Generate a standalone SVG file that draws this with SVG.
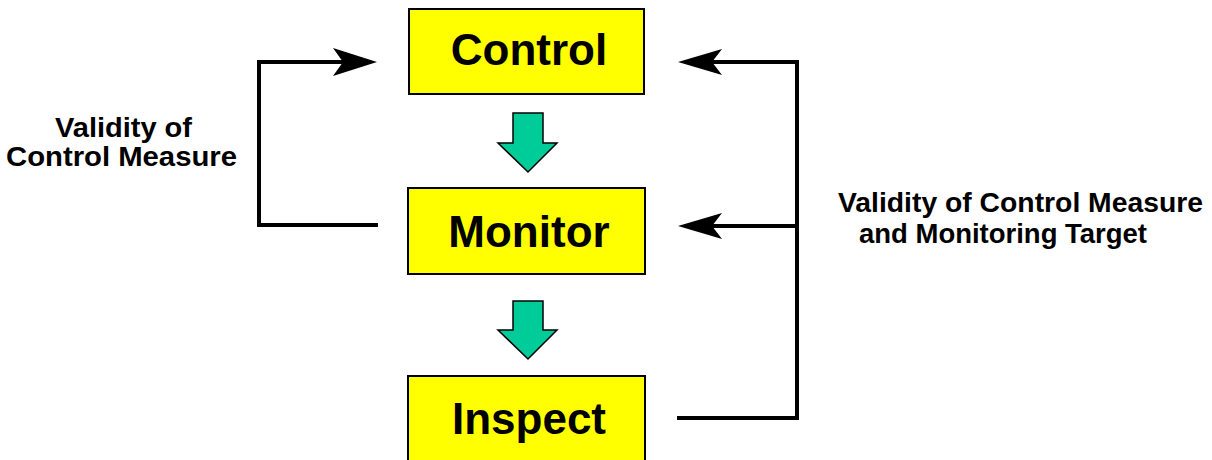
<svg xmlns="http://www.w3.org/2000/svg" width="1212" height="460" viewBox="0 0 1212 460">
<style>
.box{fill:#FFFF00;stroke:#000;stroke-width:2}
.t{font-family:"Liberation Sans",Arial,sans-serif;font-weight:bold;font-size:44px;fill:#000;text-anchor:middle}
.lbl{font-family:"Liberation Sans",Arial,sans-serif;font-weight:bold;font-size:28px;fill:#000}
.ln{fill:none;stroke:#000;stroke-width:4}
.ah{fill:#000}
.ga{fill:#00CC99;stroke:#000;stroke-width:1.5}
</style>
<rect width="1212" height="460" fill="#fff"/>
<g id="control"><rect class="box" x="409" y="9" width="235" height="85"/><text class="t" x="529" y="65">Control</text></g>
<g id="monitor"><rect class="box" x="408" y="188" width="237" height="86"/><text class="t" x="529" y="247">Monitor</text></g>
<g id="inspect"><rect class="box" x="408" y="376" width="237" height="90"/><text class="t" x="529" y="434">Inspect</text></g>
<g id="flow-arrows">
<polygon class="ga" points="513,113 543,113 543,143 557,143 528,172 498,143 513,143"/>
<polygon class="ga" points="513,301 543,301 543,330 557,330 528,359 498,330 513,330"/>
</g>
<g id="connectors">
<polyline class="ln" points="378,225 259,225 259,62 345,62"/>
<polygon class="ah" points="377,62 333,48 343,62 333,76"/>
<polyline class="ln" points="677,418 797,418 797,62 712,62"/>
<line class="ln" x1="797" y1="226" x2="712" y2="226"/>
<polygon class="ah" points="678,62 722,49 712,62 722,75"/>
<polygon class="ah" points="678,226 722,213 712,226 722,239"/>
</g>
<g id="labels">
<text class="lbl" x="55" y="137" textLength="137" lengthAdjust="spacingAndGlyphs">Validity of</text>
<text class="lbl" x="6" y="166" textLength="231" lengthAdjust="spacingAndGlyphs">Control Measure</text>
<text class="lbl" x="838" y="212" textLength="365" lengthAdjust="spacingAndGlyphs">Validity of Control Measure</text>
<text class="lbl" x="859" y="243" textLength="288" lengthAdjust="spacingAndGlyphs">and Monitoring Target</text>
</g>
</svg>
